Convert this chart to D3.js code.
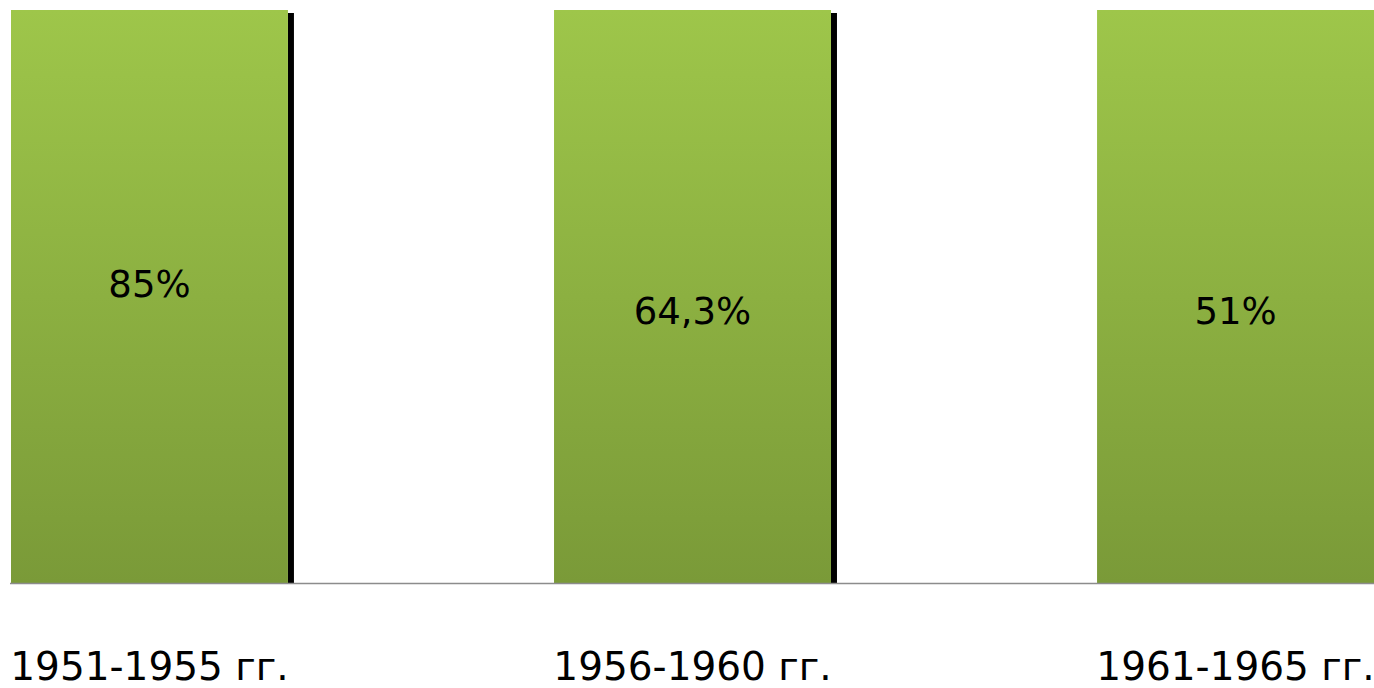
<!DOCTYPE html>
<html>
<head>
<meta charset="utf-8">
<script src="https://cdn.jsdelivr.net/npm/d3@7"></script>
<style>
    html, body { margin: 0; padding: 0; background: #fff; }
    svg { display: block; }
</style>
</head>
<body>
<div id="chart"></div>
<script>
// chart data
const periods = ["1951-1955 гг.", "1956-1960 гг.", "1961-1965 гг."];
const shares = [85, 64.3, 51];
const shareLabels = ["85%", "64,3%", "51%"];

window.addEventListener('DOMContentLoaded', () => {

    const width = 1374;
    const height = 688;
    const baseY = 583;
    const topY = 10;

    const svg = d3.select('#chart')
        .append('svg')
        .attr('width', width)
        .attr('height', height);

    // gradient for the bars, light on top, darker at the bottom
    const grad = svg.append('defs')
        .append('linearGradient')
        .attr('id', 'barGrad')
        .attr('x1', 0).attr('y1', 0)
        .attr('x2', 0).attr('y2', 1);
    grad.append('stop').attr('offset', '0%').attr('stop-color', '#9ec64a');
    grad.append('stop').attr('offset', '100%').attr('stop-color', '#7a9a38');

    const x = d3.scaleBand()
        .domain(periods)
        .range([11, width])
        .paddingInner(0.49)
        .paddingOuter(0);

    // the value axis runs off the top of the picture, so every bar is cut there
    const y = d3.scaleLinear()
        .domain([0, 45])
        .range([baseY, topY])
        .clamp(true);

    const bars = svg.selectAll('.bar')
        .data(periods)
        .enter()
        .append('g')
        .attr('class', 'bar');

    // dark edge on the right of each bar
    bars.append('rect')
        .attr('x', d => x(d) + x.bandwidth())
        .attr('y', (d, i) => y(shares[i]) + 3)
        .attr('width', 6)
        .attr('height', (d, i) => baseY - y(shares[i]) - 3)
        .attr('fill', '#000');

    bars.append('rect')
        .attr('x', d => x(d))
        .attr('y', (d, i) => y(shares[i]))
        .attr('width', x.bandwidth())
        .attr('height', (d, i) => baseY - y(shares[i]))
        .attr('fill', 'url(#barGrad)');

    // baseline
    svg.append('line')
        .attr('x1', 10)
        .attr('x2', width)
        .attr('y1', baseY + 0.5)
        .attr('y2', baseY + 0.5)
        .attr('stroke', '#8c8c8c')
        .attr('stroke-width', 1.5);

    // value labels
    const labelY = [297, 324, 324];
    bars.append('text')
        .attr('x', d => x(d) + x.bandwidth() / 2)
        .attr('y', (d, i) => labelY[i])
        .attr('text-anchor', 'middle')
        .attr('font-family', 'DejaVu Sans, Verdana, sans-serif')
        .attr('font-size', 37)
        .attr('fill', '#000')
        .text((d, i) => shareLabels[i]);

    // category labels
    const xAxis = svg.append('g')
        .attr('transform', `translate(0, ${baseY})`)
        .call(d3.axisBottom(x).tickSize(0).tickPadding(97));
    xAxis.select('.domain').remove();
    xAxis.selectAll('text')
        .attr('font-family', 'DejaVu Sans, Verdana, sans-serif')
        .attr('font-size', 39)
        .attr('fill', '#000')
        .attr('dy', 0);

});
</script>
</body>
</html>
